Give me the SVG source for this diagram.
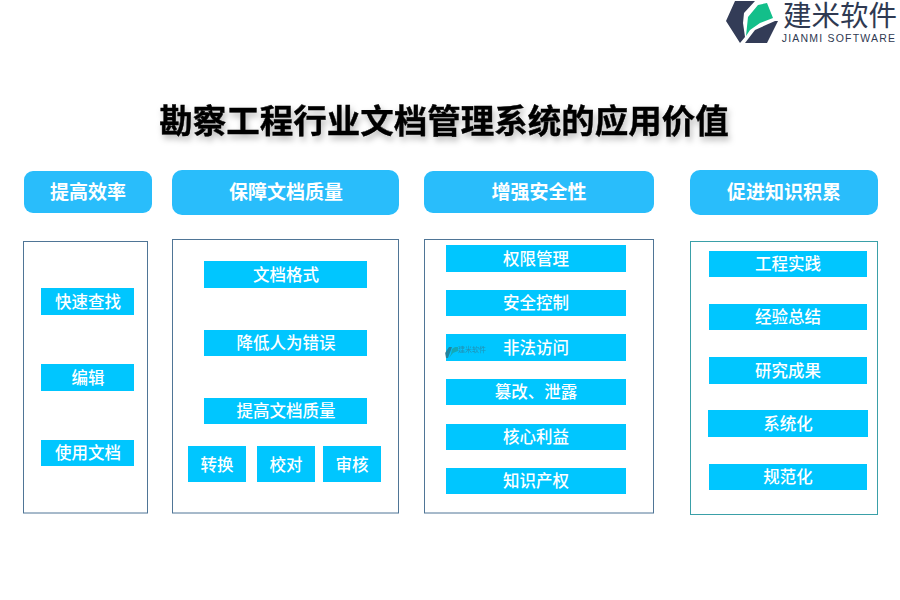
<svg xmlns="http://www.w3.org/2000/svg" width="900" height="600" viewBox="0 0 900 600">
<defs>
<style>
text{font-family:"Noto Sans CJK SC","Noto Sans",sans-serif;text-anchor:middle}
.h rect{fill:#29bdfb}
.h text{font-size:19px;font-weight:700;fill:#fff;transform:translateY(.7px)}
.p{fill:#fff;stroke:#4f7596;stroke-width:1}
.i{fill:#00c6ff}
.t{font-size:16.500px;fill:#fff;font-weight:500;transform:translateY(.5px)}
</style>
<filter id="s" x="-5%" y="-30%" width="110%" height="170%"><feDropShadow dx="2" dy="4" stdDeviation="3" flood-color="#000" flood-opacity=".28"/></filter>
</defs>
<rect width="900" height="600" fill="#fff"/>
<g id="logo">
<path d="M735 1H755L744 13L743 23L745 37L740 43L726 21Z" fill="#333c57"/>
<path d="M746 36L748 17L758 5L767 3L773 18L760 23L750 30Z" fill="#13bf8a"/>
<path d="M745 43L755 30L775 21H778L767 43Z" fill="#333c57"/>
<text x="840" y="25.500" style="font-size:28.500px;fill:#2f3a52">建米软件</text>
<text x="839" y="42" style="font-family:'Liberation Sans',sans-serif;font-size:10.500px;fill:#2f3a52;letter-spacing:1.200px">JIANMI SOFTWARE</text>
</g>
<text id="title" x="444" y="133" filter="url(#s)" style="font-size:33.500px;font-weight:700;fill:#000;stroke:#000;stroke-width:.4">勘察工程行业文档管理系统的应用价值</text>
<g id="col1">
<g class="h"><rect x="24" y="171" width="128" height="42" rx="9"/><text x="88" y="198">提高效率</text></g>
<rect class="p" x="23.500" y="241.500" width="124" height="271.500"/>
<rect class="i" x="41" y="288" width="93" height="27"/><text class="t" x="88" y="307">快速查找</text>
<rect class="i" x="41" y="364" width="93" height="27"/><text class="t" x="88" y="383">编辑</text>
<rect class="i" x="41" y="440" width="93" height="26"/><text class="t" x="88" y="458">使用文档</text>
</g>
<g id="col2">
<g class="h"><rect x="172" y="170" width="227" height="45" rx="10"/><text x="286" y="198">保障文档质量</text></g>
<rect class="p" x="172.500" y="239.500" width="226" height="273.500"/>
<rect class="i" x="204" y="261" width="163" height="27"/><text class="t" x="286" y="280">文档格式</text>
<rect class="i" x="204" y="330" width="163" height="26"/><text class="t" x="286" y="348">降低人为错误</text>
<rect class="i" x="204" y="398" width="163" height="26"/><text class="t" x="286" y="416">提高文档质量</text>
<rect class="i" x="188" y="446" width="58" height="36"/><text class="t" x="217" y="470">转换</text>
<rect class="i" x="257" y="446" width="58" height="36"/><text class="t" x="286" y="470">校对</text>
<rect class="i" x="323" y="446" width="58" height="36"/><text class="t" x="352" y="470">审核</text>
</g>
<g id="col3">
<g class="h"><rect x="424" y="171" width="230" height="42" rx="9"/><text x="539" y="198">增强安全性</text></g>
<rect class="p" x="424.500" y="239.500" width="229" height="273.500"/>
<rect class="i" x="446" y="245" width="180" height="27"/><text class="t" x="536" y="264">权限管理</text>
<rect class="i" x="446" y="290" width="180" height="26"/><text class="t" x="536" y="308">安全控制</text>
<rect class="i" x="446" y="334" width="180" height="27"/><text class="t" x="536" y="353">非法访问</text>
<rect class="i" x="446" y="379" width="180" height="26"/><text class="t" x="536" y="397">篡改、泄露</text>
<rect class="i" x="446" y="424" width="180" height="26"/><text class="t" x="536" y="442">核心利益</text>
<rect class="i" x="446" y="468" width="180" height="26"/><text class="t" x="536" y="486">知识产权</text>
</g>
<g id="col4">
<g class="h"><rect x="690" y="170" width="188" height="45" rx="10"/><text x="784" y="198">促进知识积累</text></g>
<rect class="p" x="690.500" y="241.500" width="187" height="273" style="stroke:#3aa0a8"/>
<rect class="i" x="709" y="251" width="158" height="26"/><text class="t" x="788" y="269">工程实践</text>
<rect class="i" x="709" y="304" width="158" height="26"/><text class="t" x="788" y="322">经验总结</text>
<rect class="i" x="709" y="357" width="158" height="27"/><text class="t" x="788" y="376">研究成果</text>
<rect class="i" x="708" y="410" width="160" height="27"/><text class="t" x="788" y="429">系统化</text>
<rect class="i" x="709" y="464" width="158" height="26"/><text class="t" x="788" y="482">规范化</text>
</g>
<g id="watermark" opacity=".75">
<path d="M449 347h3l-4 11h-2l-1-5z" fill="#2d6f80"/>
<path d="M449 358l4-5 5-2v-4h-3l-3 2-1 5z" fill="#1aa0a0"/>
<text x="472" y="352" style="font-size:7px;fill:#2d7f9a">建米软件</text>
</g>
</svg>
